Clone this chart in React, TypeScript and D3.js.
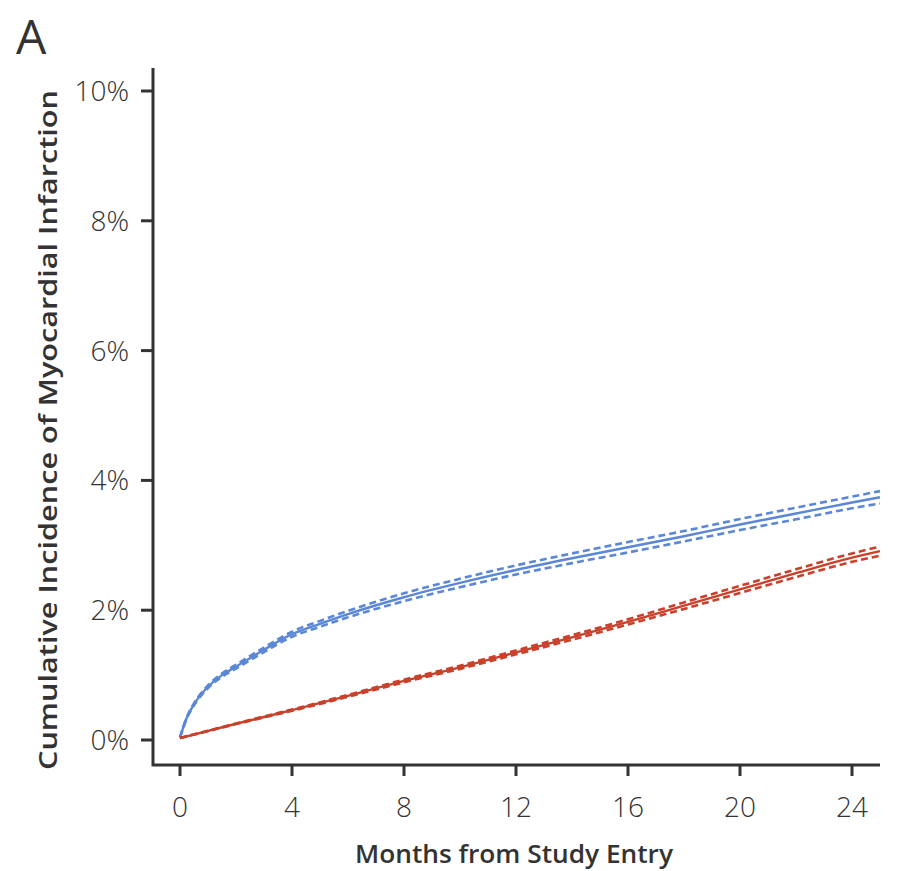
import React, { useEffect } from 'react';
import * as d3 from 'd3';

// months from study entry
const months = [0, 0.25, 0.5, 1, 1.5, 2, 3, 4, 5, 6, 8, 10, 12, 14, 16, 18, 20, 22, 24, 25];
// cumulative incidence (%) - blue group
const blueEst = [0.04, 0.35, 0.55, 0.82, 1.0, 1.13, 1.39, 1.63, 1.79, 1.94, 2.2, 2.42, 2.62, 2.8, 2.97, 3.14, 3.32, 3.49, 3.66, 3.74];
const blueLow = [0.04, 0.34, 0.535, 0.8, 0.975, 1.1, 1.355, 1.59, 1.745, 1.89, 2.14, 2.355, 2.55, 2.725, 2.89, 3.06, 3.235, 3.4, 3.57, 3.645];
const blueHigh = [0.04, 0.36, 0.565, 0.84, 1.025, 1.16, 1.425, 1.67, 1.835, 1.99, 2.26, 2.485, 2.69, 2.875, 3.05, 3.22, 3.405, 3.58, 3.75, 3.835];
// red group
const redMonths = [0, 2, 4, 6, 8, 10, 12, 14, 16, 18, 20, 22, 24, 25];
const redEst = [0.03, 0.25, 0.46, 0.68, 0.91, 1.12, 1.35, 1.58, 1.82, 2.07, 2.32, 2.57, 2.81, 2.91];
const redLow = [0.03, 0.245, 0.45, 0.665, 0.89, 1.095, 1.32, 1.545, 1.78, 2.02, 2.265, 2.51, 2.745, 2.84];
const redHigh = [0.03, 0.255, 0.47, 0.695, 0.93, 1.145, 1.38, 1.615, 1.86, 2.12, 2.375, 2.63, 2.875, 2.98];

const xTicks = [0, 4, 8, 12, 16, 20, 24];
const yTicks = [0, 2, 4, 6, 8, 10];

const BLUE = '#5b87d6';
const RED = '#c9402b';
const INK = '#333333';

const App = () => {
    useEffect(() => {
        document.body.style.margin = '0';
    }, []);

    const width = 907;
    const height = 871;

    const x = d3.scaleLinear().domain([0, 24]).range([180, 852]);
    const y = d3.scaleLinear().domain([0, 10]).range([740, 91]);

    const axisLeft = 153;
    const axisBottom = 765;
    const axisRight = x(25);
    const axisTop = 68;

    const line = (xs: number[], ys: number[]) =>
        d3.line<number>()
            .x((_, i) => x(xs[i]))
            .y(d => y(d))
            .curve(d3.curveMonotoneX)(ys) as string;

    const series = [
        { xs: months, est: blueEst, lo: blueLow, hi: blueHigh, color: BLUE },
        { xs: redMonths, est: redEst, lo: redLow, hi: redHigh, color: RED },
    ];

    return (
        <svg width={width} height={height} style={{ display: 'block', background: '#fff' }}>
            <text x={16} y={54} fontFamily="'Open Sans', sans-serif" fontSize={48} fontWeight={500} fill={INK}>A</text>

            {series.map((s, k) => (
                <g key={k} fill="none" stroke={s.color}>
                    <path d={line(s.xs, s.lo)} strokeWidth={2.6} strokeDasharray="7,4" />
                    <path d={line(s.xs, s.hi)} strokeWidth={2.6} strokeDasharray="7,4" />
                    <path d={line(s.xs, s.est)} strokeWidth={2.4} />
                </g>
            ))}

            {/* axes */}
            <g stroke={INK} strokeWidth={3} fill="none">
                <path d={`M${axisLeft},${axisTop}V${axisBottom}H${axisRight}`} />
                {yTicks.map(t => (
                    <line key={t} x1={axisLeft - 12} x2={axisLeft} y1={y(t)} y2={y(t)} />
                ))}
                {xTicks.map(t => (
                    <line key={t} x1={x(t)} x2={x(t)} y1={axisBottom} y2={axisBottom + 11} />
                ))}
            </g>

            <g fontFamily="'Open Sans', sans-serif" fontSize={28} fill={INK} fontWeight={300}>
                {yTicks.map(t => (
                    <text key={t} x={129} y={y(t) + 10} textAnchor="end">{t}%</text>
                ))}
                {xTicks.map(t => (
                    <text key={t} x={x(t)} y={817} textAnchor="middle">{t}</text>
                ))}
            </g>

            <text x={514} y={863} textAnchor="middle" fontFamily="'Open Sans', sans-serif" fontWeight={600}
                fontSize={26} fill={INK} textLength={318} lengthAdjust="spacingAndGlyphs">
                Months from Study Entry
            </text>
            <text transform="translate(57,430) rotate(-90)" textAnchor="middle" fontFamily="'Open Sans', sans-serif"
                fontWeight={600} fontSize={26} fill={INK} textLength={680} lengthAdjust="spacingAndGlyphs">
                Cumulative Incidence of Myocardial Infarction
            </text>
        </svg>
    );
};

export default App;
